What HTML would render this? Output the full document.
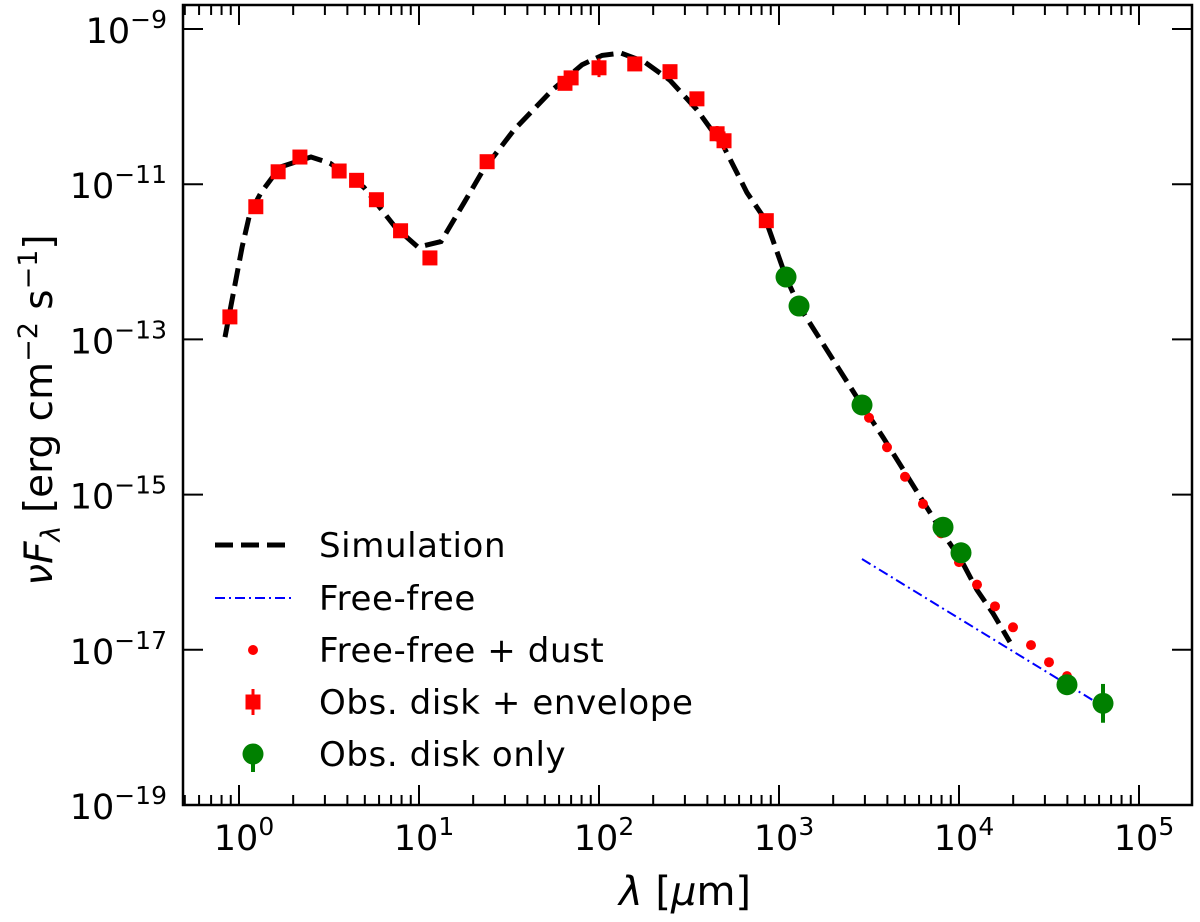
<!DOCTYPE html>
<html><head><meta charset="utf-8"><style>
body{margin:0;background:#fff;}
svg{display:block;font-family:"DejaVu Sans","Liberation Sans",sans-serif;}
</style></head><body>
<svg id="chart" width="1200" height="922" viewBox="0 0 1200 922"></svg>
<script>
const simLogLam=[-0.078,0.017,0.061,0.122,0.228,0.4,0.506,0.694,0.867,0.994,1.122,1.25,1.356,1.528,1.739,1.906,2.017,2.122,2.25,2.394,2.544,2.694,2.822,2.928,3.039,3.111,3.461,3.578,3.911,4.011,4.1,4.189,4.283];
const simLogF=[-12.97,-11.81,-11.37,-11.11,-10.78,-10.65,-10.73,-11.04,-11.55,-11.81,-11.74,-11.24,-10.82,-10.30,-9.79,-9.46,-9.34,-9.31,-9.42,-9.66,-10.04,-10.52,-11.11,-11.47,-12.20,-12.57,-13.85,-14.26,-15.50,-15.84,-16.23,-16.53,-16.90];
const ffLogLam=[3.461,4.744];
const ffLogF=[-15.83,-17.65];
const ffdLogLam=[3.5,3.6,3.7,3.8,3.9,4.0,4.1,4.2,4.3,4.4,4.5,4.6];
const ffdLogF=[-14.01,-14.39,-14.77,-15.12,-15.50,-15.87,-16.16,-16.44,-16.71,-16.94,-17.16,-17.34];
const obsLam=[0.89,1.24,1.65,2.18,3.6,4.5,5.8,7.9,11.5,23.9,64.7,70,100,158,248,350,453,495,850];
const obsLogF=[-12.71,-11.29,-10.84,-10.65,-10.83,-10.95,-11.20,-11.60,-11.95,-10.71,-9.70,-9.63,-9.50,-9.45,-9.55,-9.90,-10.35,-10.44,-11.47];
const obsErr=[0.05,0,0,0,0,0,0,0,0,0,0.05,0,0.12,0.06,0,0,0.1,0.12,0.05];
const diskLam=[1094,1292,2892,8150,10260,39800,63100];
const diskLogF=[-12.196,-12.57,-13.845,-15.42,-15.75,-17.45,-17.69];
const diskErr=[0,0,0,0,0,0,0.25];
const xTickExp=[0,1,2,3,4,5];
const yTickExp=[-9,-11,-13,-15,-17,-19];

const L=183,R=1192,T=5,B=805;
const X=lg=>239+(lg)*180;
const Y=lf=>29+(-9-lf)*77.6;
const svg=document.getElementById('chart');
const NS='http://www.w3.org/2000/svg';
function mk(t,a,p){const e=document.createElementNS(NS,t);for(const k in a)e.setAttribute(k,a[k]);(p||svg).appendChild(e);return e;}

const defs=mk('defs',{});const cp=mk('clipPath',{id:'clip'},defs);mk('rect',{x:L,y:T,width:R-L,height:B-T},cp);
const plot=mk('g',{'clip-path':'url(#clip)'});



let d='';simLogLam.forEach((v,i)=>{d+=(i?'L':'M')+X(v).toFixed(1)+','+Y(simLogF[i]).toFixed(1);});
const sim=mk('path',{d:d,fill:'none',stroke:'#000','stroke-width':5,'stroke-dasharray':'18,8'},plot);



const ff=mk('line',{x1:X(ffLogLam[0]),y1:Y(ffLogF[0]),x2:X(ffLogLam[1]),y2:Y(ffLogF[1]),stroke:'#0000ff','stroke-width':2,'stroke-dasharray':'10,4,2,4'},plot);



ffdLogLam.forEach((v,i)=>{const c=mk('circle',{cx:X(v),cy:Y(ffdLogF[i]),r:5,fill:'#ff0000'},plot);

});

obsLam.forEach((v,i)=>{const cx=X(Math.log10(v)),cy=Y(obsLogF[i]);
if(obsErr[i]>0){const e=mk('line',{x1:cx,x2:cx,y1:Y(obsLogF[i]+obsErr[i]),y2:Y(obsLogF[i]-obsErr[i]),stroke:'#ff0000','stroke-width':3},plot);

}
const s=mk('rect',{x:cx-7.5,y:cy-7.5,width:15,height:15,fill:'#ff0000'},plot);

});

diskLam.forEach((v,i)=>{const cx=X(Math.log10(v)),cy=Y(diskLogF[i]);
if(diskErr[i]>0){const e=mk('line',{x1:cx,x2:cx,y1:Y(diskLogF[i]+diskErr[i]),y2:Y(diskLogF[i]-diskErr[i]),stroke:'#008000','stroke-width':4},plot);

}
const c=mk('circle',{cx:cx,cy:cy,r:10.5,fill:'#008000'},plot);

});

const ax=mk('g',{stroke:'#000','stroke-width':2});


for(let e=-1;e<=5;e++){for(let m=1;m<10;m++){const lg=e+Math.log10(m);const x=X(lg);if(x<L||x>R)continue;const len=m==1?20:10;
mk('line',{x1:x,x2:x,y1:B,y2:B-len},ax);mk('line',{x1:x,x2:x,y1:T,y2:T+len},ax);}}
yTickExp.forEach(e=>{const y=Y(e);mk('line',{x1:L,x2:L+20,y1:y,y2:y},ax);mk('line',{x1:R,x2:R-20,y1:y,y2:y},ax);});
const fr=mk('rect',{x:L,y:T,width:R-L,height:B-T,fill:'none',stroke:'#000','stroke-width':2.5});



xTickExp.forEach(e=>{const t=mk('text',{x:X(e)+5,y:850,'font-size':35,'text-anchor':'middle'});


t.innerHTML='10<tspan dy="-15" font-size="25">'+e+'</tspan>';});
yTickExp.forEach(e=>{const t=mk('text',{x:167,y:Y(e)+14,'font-size':35,'text-anchor':'end'});


t.innerHTML='10<tspan dy="-15" font-size="25">\u2212'+(-e)+'</tspan>';});

const xt=mk('text',{x:685,y:905,'font-size':40,'text-anchor':'middle'});


xt.innerHTML='<tspan font-style="italic">λ</tspan> [<tspan font-style="italic">μ</tspan>m]';
const yt=mk('text',{x:0,y:0,'font-size':39,'text-anchor':'middle',transform:'translate(52,410) rotate(-90)'});


yt.innerHTML='<tspan font-style="italic">νF</tspan><tspan font-style="italic" font-size="27" dy="8">λ</tspan><tspan dy="-8"> [erg cm</tspan><tspan font-size="27" dy="-15">−2</tspan><tspan dy="15"> s</tspan><tspan font-size="27" dy="-15">−1</tspan><tspan dy="15">]</tspan>';

const lg=mk('g',{});


const rows=[545,598,650,702,754];
const labels=['Simulation','Free-free','Free-free + dust','Obs. disk + envelope','Obs. disk only'];
mk('line',{x1:215,x2:292,y1:rows[0],y2:rows[0],stroke:'#000','stroke-width':5,'stroke-dasharray':'18,8'},lg);
mk('line',{x1:215,x2:292,y1:rows[1],y2:rows[1],stroke:'#0000ff','stroke-width':2,'stroke-dasharray':'10,4,2,4'},lg);
mk('circle',{cx:253,cy:rows[2],r:5,fill:'#ff0000'},lg);
mk('line',{x1:253,x2:253,y1:rows[3]-13,y2:rows[3]+13,stroke:'#ff0000','stroke-width':3},lg);
mk('rect',{x:245.5,y:rows[3]-7.5,width:15,height:15,fill:'#ff0000'},lg);
mk('line',{x1:253,x2:253,y1:rows[4]-10,y2:rows[4]+18,stroke:'#008000','stroke-width':4},lg);
mk('circle',{cx:253,cy:rows[4],r:10.5,fill:'#008000'},lg);
labels.forEach((s,i)=>{const t=mk('text',{x:319,y:rows[i]+12,'font-size':34,'letter-spacing':'0.6'},lg);


t.textContent=s;});
</script>
</body></html>
